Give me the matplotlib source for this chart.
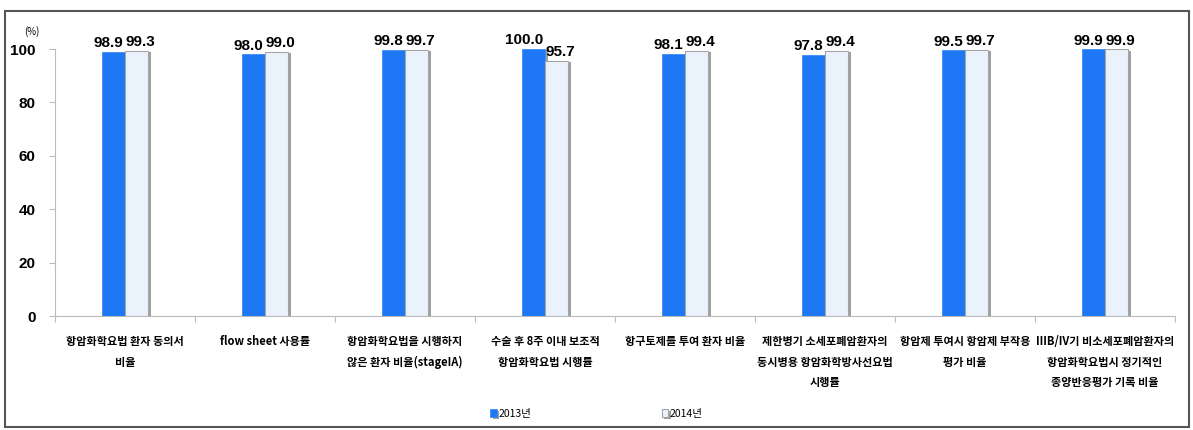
import matplotlib
matplotlib.use('Agg')
import matplotlib.pyplot as plt
import matplotlib.patheffects as pe
from matplotlib.patches import Rectangle
import numpy as np

categories = [
    '항암화학요법 환자 동의서\n비율',
    'flow sheet 사용률',
    '항암화학요법을 시행하지\n않은 환자 비율(stageIA)',
    '수술 후 8주 이내 보조적\n항암화학요법 시행률',
    '항구토제를 투여 환자 비율',
    '제한병기 소세포폐암환자의\n동시병용 항암화학방사선요법\n시행률',
    '항암제 투여시 항암제 부작용\n평가 비율',
    'IIIB/IV기 비소세포폐암환자의\n항암화학요법시 정기적인\n종양반응평가 기록 비율',
]
values_2013 = [98.9, 98.0, 99.8, 100.0, 98.1, 97.8, 99.5, 99.9]
values_2014 = [99.3, 99.0, 99.7, 95.7, 99.4, 99.4, 99.7, 99.9]
series_names = ['2013년', '2014년']

kr_font = ['Noto Sans CJK KR', 'DejaVu Sans']
num_font = ['Liberation Sans', 'DejaVu Sans']

fig = plt.figure(figsize=(11.93, 4.30), dpi=100)
ax = fig.add_axes([0.046, 0.265, 0.939, 0.621])

x = np.arange(len(categories)) + 0.5
w = 0.164
shadow = [pe.SimplePatchShadow(offset=(2, -1), shadow_rgbFace='#777777', alpha=0.7), pe.Normal()]

b1 = ax.bar(x - w / 2, values_2013, w, color='#1E78F5', edgecolor='#3C8CF5',
            linewidth=0.6, label=series_names[0], zorder=3)
b2 = ax.bar(x + w / 2, values_2014, w, color='#EAF3FC', edgecolor='#A5A5A5',
            linewidth=0.8, label=series_names[1], zorder=3)
for b in list(b1) + list(b2):
    b.set_path_effects(shadow)

# labels pushed outward from the shared edge of each pair, as in the source
for xi, v in zip(x, values_2013):
    ax.text(xi - 0.015, v + 0.6, f'{v:.1f}', ha='right', va='bottom',
            fontsize=11, fontweight='bold', family=num_font)
for xi, v in zip(x, values_2014):
    ax.text(xi + 0.003, v + 0.6, f'{v:.1f}', ha='left', va='bottom',
            fontsize=11, fontweight='bold', family=num_font)

ax.set_xlim(0, len(categories))
ax.set_ylim(0, 100)
ax.set_yticks(range(0, 101, 20))
ax.set_yticklabels([str(t) for t in range(0, 101, 20)], fontsize=11,
                   fontweight='bold', family=num_font)
ax.tick_params(axis='y', length=4, color='#BBBBBB', pad=10)

ax.set_xticks(np.arange(len(categories) + 1))
ax.set_xticklabels([])
ax.tick_params(axis='x', which='major', length=4, color='#BBBBBB')
ax.set_xticks(x, minor=True)
ax.set_xticklabels(categories, minor=True, fontsize=8, fontweight='bold',
                   family=kr_font, linespacing=1.75)
ax.tick_params(axis='x', which='minor', length=0, pad=14)

for s in ['top', 'right']:
    ax.spines[s].set_visible(False)
for s in ['left', 'bottom']:
    ax.spines[s].set_color('#BBBBBB')

fig.text(0.027, 0.926, '(%)', fontsize=7, family=kr_font, ha='center', va='center')

leg = fig.legend(handles=[b1, b2], loc='center', bbox_to_anchor=(0.5, 0.037),
                 ncol=2, frameon=False, handlelength=0.6, handleheight=0.8,
                 handletextpad=0.2, columnspacing=12.5,
                 prop={'family': kr_font, 'size': 7.5})

fig.patches.append(Rectangle((0.004, 0.007), 0.993, 0.967, transform=fig.transFigure,
                             fill=False, edgecolor='#555555', linewidth=1.5))

fig.savefig('out.png', dpi=100)
